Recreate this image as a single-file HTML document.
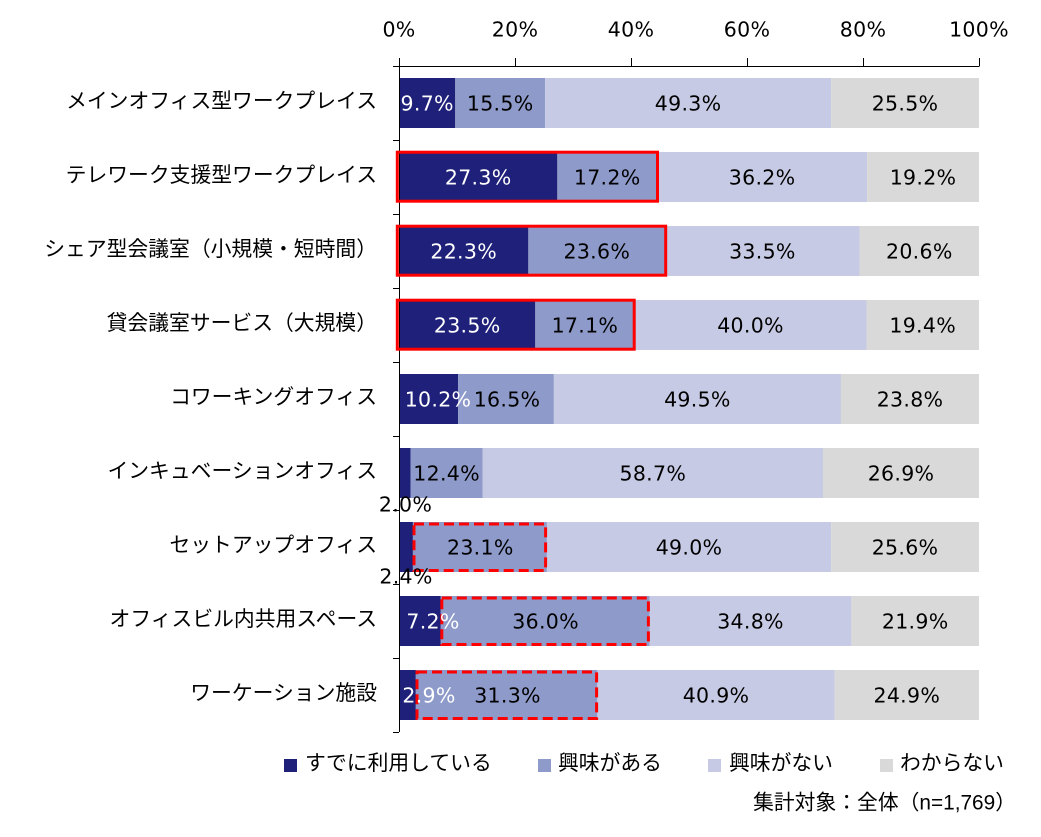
<!DOCTYPE html>
<html><head><meta charset="utf-8"><style>
html,body{margin:0;padding:0;background:#fff;}
svg{display:block;}
.num{font-family:"DejaVu Sans","Liberation Sans",sans-serif;font-size:20.5px;letter-spacing:0.3px;}
.cat{font-family:"Liberation Sans","Noto Sans CJK JP",sans-serif;font-size:20.8px;fill:#000;}
.w{fill:#fff;} .b{fill:#000;}
</style></head><body>
<svg width="1041" height="837" viewBox="0 0 1041 837" xmlns="http://www.w3.org/2000/svg">
<rect width="1041" height="837" fill="#fff"/>
<!-- tick labels -->
<g class="num b" text-anchor="middle">
<text x="399" y="36.5">0%</text>
<text x="515" y="36.5">20%</text>
<text x="631" y="36.5">40%</text>
<text x="747" y="36.5">60%</text>
<text x="863" y="36.5">80%</text>
<text x="979" y="36.5">100%</text>
</g>
<!-- bars -->
<g>
<!-- row0 top78 -->
<rect x="399" y="78" width="56.26" height="50" fill="#1F2079"/>
<rect x="455.26" y="78" width="89.9" height="50" fill="#8E9AC9"/>
<rect x="545.16" y="78" width="285.94" height="50" fill="#C7CAE4"/>
<rect x="831.1" y="78" width="147.9" height="50" fill="#D9D9D9"/>
<!-- row1 -->
<rect x="399" y="152" width="158.34" height="50" fill="#1F2079"/>
<rect x="557.34" y="152" width="99.76" height="50" fill="#8E9AC9"/>
<rect x="657.1" y="152" width="209.96" height="50" fill="#C7CAE4"/>
<rect x="867.06" y="152" width="111.94" height="50" fill="#D9D9D9"/>
<!-- row2 -->
<rect x="399" y="226" width="129.34" height="50" fill="#1F2079"/>
<rect x="528.34" y="226" width="136.88" height="50" fill="#8E9AC9"/>
<rect x="665.22" y="226" width="194.3" height="50" fill="#C7CAE4"/>
<rect x="859.52" y="226" width="119.48" height="50" fill="#D9D9D9"/>
<!-- row3 -->
<rect x="399" y="300" width="136.3" height="50" fill="#1F2079"/>
<rect x="535.3" y="300" width="99.18" height="50" fill="#8E9AC9"/>
<rect x="634.48" y="300" width="232" height="50" fill="#C7CAE4"/>
<rect x="866.48" y="300" width="112.52" height="50" fill="#D9D9D9"/>
<!-- row4 -->
<rect x="399" y="374" width="59.16" height="50" fill="#1F2079"/>
<rect x="458.16" y="374" width="95.7" height="50" fill="#8E9AC9"/>
<rect x="553.86" y="374" width="287.1" height="50" fill="#C7CAE4"/>
<rect x="840.96" y="374" width="138.04" height="50" fill="#D9D9D9"/>
<!-- row5 -->
<rect x="399" y="448" width="11.6" height="50" fill="#1F2079"/>
<rect x="410.6" y="448" width="71.92" height="50" fill="#8E9AC9"/>
<rect x="482.52" y="448" width="340.46" height="50" fill="#C7CAE4"/>
<rect x="822.98" y="448" width="156.02" height="50" fill="#D9D9D9"/>
<!-- row6 -->
<rect x="399" y="522" width="13.92" height="50" fill="#1F2079"/>
<rect x="412.92" y="522" width="133.98" height="50" fill="#8E9AC9"/>
<rect x="546.9" y="522" width="284.2" height="50" fill="#C7CAE4"/>
<rect x="831.1" y="522" width="147.9" height="50" fill="#D9D9D9"/>
<!-- row7 -->
<rect x="399" y="596" width="41.76" height="50" fill="#1F2079"/>
<rect x="440.76" y="596" width="208.8" height="50" fill="#8E9AC9"/>
<rect x="649.56" y="596" width="201.84" height="50" fill="#C7CAE4"/>
<rect x="851.4" y="596" width="127.6" height="50" fill="#D9D9D9"/>
<!-- row8 -->
<rect x="399" y="670" width="16.82" height="50" fill="#1F2079"/>
<rect x="415.82" y="670" width="181.54" height="50" fill="#8E9AC9"/>
<rect x="597.36" y="670" width="237.22" height="50" fill="#C7CAE4"/>
<rect x="834.58" y="670" width="144.42" height="50" fill="#D9D9D9"/>
</g>
<!-- axes -->
<g stroke="#000" stroke-width="1" fill="none">
<line x1="393" y1="66.5" x2="979.5" y2="66.5"/>
<line x1="399.5" y1="58" x2="399.5" y2="732"/>
<line x1="515.5" y1="58" x2="515.5" y2="66"/>
<line x1="631.5" y1="58" x2="631.5" y2="66"/>
<line x1="747.5" y1="58" x2="747.5" y2="66"/>
<line x1="863.5" y1="58" x2="863.5" y2="66"/>
<line x1="979.5" y1="58" x2="979.5" y2="66"/>
<line x1="393" y1="140.5" x2="399" y2="140.5"/>
<line x1="393" y1="214.5" x2="399" y2="214.5"/>
<line x1="393" y1="288.5" x2="399" y2="288.5"/>
<line x1="393" y1="362.5" x2="399" y2="362.5"/>
<line x1="393" y1="436.5" x2="399" y2="436.5"/>
<line x1="393" y1="510.5" x2="399" y2="510.5"/>
<line x1="393" y1="584.5" x2="399" y2="584.5"/>
<line x1="393" y1="658.5" x2="399" y2="658.5"/>
<line x1="393" y1="732.5" x2="399" y2="732.5"/>
</g>
<!-- red boxes -->
<g fill="none" stroke="#FF0000" stroke-width="3">
<rect x="397.3" y="152.2" width="260.2" height="49"/>
<rect x="397.3" y="226.2" width="268.4" height="49"/>
<rect x="397.3" y="300.2" width="236.9" height="49"/>
</g>
<g fill="none" stroke="#FF0000" stroke-width="3" stroke-dasharray="10,5">
<rect x="414" y="524" width="131.6" height="46.5"/>
<rect x="441.8" y="598" width="206.6" height="46.5"/>
<rect x="417" y="672" width="179.6" height="46.5"/>
</g>
<!-- data labels -->
<g class="num" text-anchor="middle">
<text class="w" x="427.2" y="110.3">9.7%</text>
<text class="b" x="500.2" y="110.3">15.5%</text>
<text class="b" x="688.1" y="110.3">49.3%</text>
<text class="b" x="905" y="110.3">25.5%</text>

<text class="w" x="478.2" y="184.3">27.3%</text>
<text class="b" x="607.2" y="184.3">17.2%</text>
<text class="b" x="762.1" y="184.3">36.2%</text>
<text class="b" x="923" y="184.3">19.2%</text>

<text class="w" x="463.7" y="258.3">22.3%</text>
<text class="b" x="596.8" y="258.3">23.6%</text>
<text class="b" x="762.4" y="258.3">33.5%</text>
<text class="b" x="919.3" y="258.3">20.6%</text>

<text class="w" x="467.2" y="332.3">23.5%</text>
<text class="b" x="584.9" y="332.3">17.1%</text>
<text class="b" x="750.5" y="332.3">40.0%</text>
<text class="b" x="922.7" y="332.3">19.4%</text>

<text class="w" x="438" y="406.3">10.2%</text>
<text class="b" x="507" y="406.3">16.5%</text>
<text class="b" x="697.4" y="406.3">49.5%</text>
<text class="b" x="910" y="406.3">23.8%</text>

<text class="b" x="405.5" y="511.5">2.0%</text>
<text class="b" x="446.6" y="480.3">12.4%</text>
<text class="b" x="652.8" y="480.3">58.7%</text>
<text class="b" x="901" y="480.3">26.9%</text>

<text class="b" x="406" y="583.5">2.4%</text>
<text class="b" x="480.3" y="554.3">23.1%</text>
<text class="b" x="689" y="554.3">49.0%</text>
<text class="b" x="905" y="554.3">25.6%</text>

<text class="w" x="433" y="628.3">7.2%</text>
<text class="b" x="545.6" y="628.3">36.0%</text>
<text class="b" x="750.5" y="628.3">34.8%</text>
<text class="b" x="915.2" y="628.3">21.9%</text>

<text class="w" x="429" y="702.3">2.9%</text>
<text class="b" x="507.5" y="702.3">31.3%</text>
<text class="b" x="716" y="702.3">40.9%</text>
<text class="b" x="906.8" y="702.3">24.9%</text>
</g>
<!-- category labels -->
<g class="cat" text-anchor="end">
<text x="377" y="108">メインオフィス型ワークプレイス</text>
<text x="377" y="182">テレワーク支援型ワークプレイス</text>
<text x="377" y="256">シェア型会議室（小規模・短時間）</text>
<text x="377" y="330">貸会議室サービス（大規模）</text>
<text x="377" y="404">コワーキングオフィス</text>
<text x="377" y="478">インキュベーションオフィス</text>
<text x="377" y="552">セットアップオフィス</text>
<text x="377" y="626">オフィスビル内共用スペース</text>
<text x="377" y="700">ワーケーション施設</text>
</g>
<!-- legend -->
<rect x="284" y="759" width="13" height="13" fill="#1F2079"/>
<rect x="538" y="759" width="13" height="13" fill="#8E9AC9"/>
<rect x="708" y="759" width="13" height="13" fill="#C7CAE4"/>
<rect x="880" y="759" width="13" height="13" fill="#D9D9D9"/>
<g class="cat">
<text x="305" y="770">すでに利用している</text>
<text x="558" y="770">興味がある</text>
<text x="729" y="770">興味がない</text>
<text x="900" y="770">わからない</text>
</g>
<text class="cat" x="1016" y="809.5" text-anchor="end">集計対象：全体（n=1,769）</text>
</svg>
</body></html>
